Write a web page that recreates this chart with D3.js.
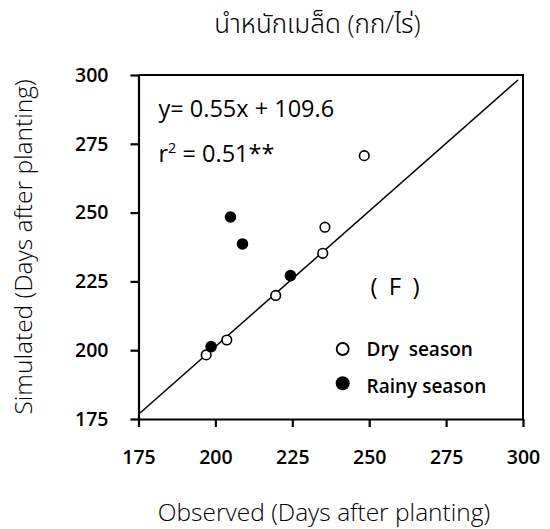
<!DOCTYPE html>
<html>
<head>
<meta charset="utf-8">
<script src="https://cdn.jsdelivr.net/npm/d3@7"></script>
<style>
  html, body { margin: 0; padding: 0; background: #fff; }
  svg text { font-family: "Open Sans", "Noto Sans", "Noto Sans Thai", sans-serif; fill: #000; }
</style>
</head>
<body>
<svg id="chart" width="550" height="529"></svg>
<script>
// Seed weight, observed vs simulated (days after planting)
const axisTicks = [175, 200, 225, 250, 275, 300];

const dryObserved = [197.0, 203.7, 219.6, 234.9, 235.6, 248.4];
const drySimulated = [198.3, 203.7, 219.9, 235.2, 244.7, 270.7];

const rainyObserved = [198.6, 204.9, 208.8, 224.4];
const rainySimulated = [201.3, 248.4, 238.6, 227.1];

// 1:1 reference line end points
const refObserved = [175.5, 298.4];
const refSimulated = [177.2, 298.2];

const titleText = "นำหนักเมล็ด (กก/ไร่)";
const xLabel = "Observed (Days after planting)";
const yLabel = "Simulated (Days after planting)";
const equationText = "y= 0.55x + 109.6";
const panelLabel = "( F )";
const legendLabels = ["Dry  season", "Rainy season"];

const svg = d3.select("#chart");
const plot = { left: 138.5, right: 523, top: 75, bottom: 419 };

const x = d3.scaleLinear().domain([175, 300]).range([plot.left, plot.right]);
const y = d3.scaleLinear().domain([175, 300]).range([plot.bottom, plot.top]);

// frame (top and right edges)
svg.append("path")
  .attr("d", `M${plot.left},${plot.top}H${plot.right}V${plot.bottom}`)
  .attr("fill", "none").attr("stroke", "#000").attr("stroke-width", 2);

// axes
const xAxis = svg.append("g")
  .attr("transform", `translate(0,${plot.bottom})`)
  .call(d3.axisBottom(x).tickValues(axisTicks).tickSize(8).tickPadding(22).tickSizeOuter(0));
const yAxis = svg.append("g")
  .attr("transform", `translate(${plot.left},0)`)
  .call(d3.axisLeft(y).tickValues(axisTicks).tickSize(8).tickPadding(22).tickSizeOuter(0));

[xAxis, yAxis].forEach(g => {
  g.select(".domain").attr("stroke", "#000").attr("stroke-width", 2.2);
  g.selectAll(".tick line").attr("stroke", "#000").attr("stroke-width", 2.2);
  g.selectAll(".tick text")
    .style("font-family", "'Open Sans', sans-serif")
    .style("font-size", "19.5px").style("font-weight", "600").attr("fill", "#000");
});
xAxis.selectAll(".tick text").attr("dy", "0.71em").attr("y", 31);
yAxis.selectAll(".tick text").attr("x", -30);

// 1:1 line
svg.append("line")
  .attr("x1", x(refObserved[0])).attr("y1", y(refSimulated[0]))
  .attr("x2", x(refObserved[1])).attr("y2", y(refSimulated[1]))
  .attr("stroke", "#000").attr("stroke-width", 1.5);

// points
const dry = dryObserved.map((o, i) => ({ o, s: drySimulated[i] }));
const rainy = rainyObserved.map((o, i) => ({ o, s: rainySimulated[i] }));

svg.append("g").selectAll("circle").data(dry).join("circle")
  .attr("cx", d => x(d.o)).attr("cy", d => y(d.s)).attr("r", 4.8)
  .attr("fill", "#fff").attr("stroke", "#000").attr("stroke-width", 1.6);

svg.append("g").selectAll("circle").data(rainy).join("circle")
  .attr("cx", d => x(d.o)).attr("cy", d => y(d.s)).attr("r", 5.8)
  .attr("fill", "#000");

// equation and r²
svg.append("text").attr("x", 158.5).attr("y", 117)
  .style("font-size", "23.5px").text(equationText);
const r2 = svg.append("text").attr("x", 158.5).attr("y", 162).style("font-size", "23.5px");
r2.append("tspan").text("r");
r2.append("tspan").attr("dy", -9).style("font-size", "14.5px").text("2");
r2.append("tspan").attr("dy", 9).text(" = 0.51**");

// panel label
svg.append("text").attr("x", 395).attr("y", 295).attr("text-anchor", "middle")
  .style("font-size", "24px").style("word-spacing", "5px")
  .attr("xml:space", "preserve").style("white-space", "pre")
  .text(panelLabel);

// legend
svg.append("circle").attr("cx", 342.7).attr("cy", 349).attr("r", 6)
  .attr("fill", "#fff").attr("stroke", "#000").attr("stroke-width", 1.8);
svg.append("circle").attr("cx", 342.7).attr("cy", 383.3).attr("r", 7).attr("fill", "#000");
svg.append("text").attr("x", 366.5).attr("y", 356).style("font-size", "19px")
  .style("font-weight", "600").style("white-space", "pre").attr("xml:space", "preserve")
  .text(legendLabels[0]);
svg.append("text").attr("x", 366.5).attr("y", 392.5).style("font-size", "19px")
  .style("font-weight", "600").text(legendLabels[1]);

// title
svg.append("text").attr("x", 317.5).attr("y", 33).attr("text-anchor", "middle")
  .style("font-size", "26px").style("font-weight", "300").text(titleText);

// axis titles
svg.append("text").attr("x", 324).attr("y", 521).attr("text-anchor", "middle")
  .style("font-size", "24.5px").style("font-weight", "300").text(xLabel);
svg.append("text")
  .attr("transform", "translate(32,247) rotate(-90)")
  .attr("text-anchor", "middle")
  .style("font-size", "24.5px").style("font-weight", "300").text(yLabel);
</script>
</body>
</html>
